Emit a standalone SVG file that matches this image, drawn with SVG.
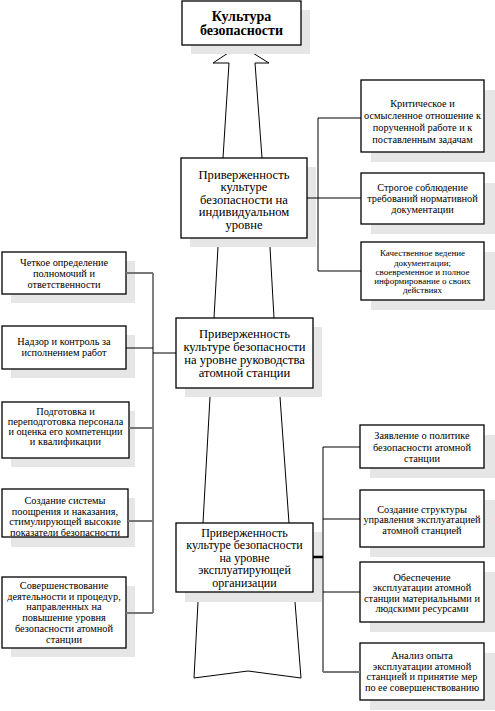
<svg xmlns="http://www.w3.org/2000/svg" width="495" height="711" viewBox="0 0 495 711">
<style>
.bg{fill:#fff}
.sh{fill:#e6e6e6}
.box{fill:#fff;stroke:#000;stroke-width:1.3}
.ln{fill:none;stroke:#000;stroke-width:1}
.gl{fill:none;stroke:#777;stroke-width:2}
.tk{fill:none;stroke:#000;stroke-width:2.5}
text{font-family:"Liberation Serif","Times New Roman",serif;text-anchor:middle;fill:#000}
.tt{font-size:14px;font-weight:bold}
.tc{font-size:12.6px}
.to{font-size:12px}
.ts{font-size:10.3px}
.tx{font-size:9px}
</style>
<rect class="bg" x="0" y="0" width="495" height="711"/>
<g id="big-arrows">
<polyline class="ln" points="223,158 229,63 213,63 240,45 269,63 255,63 262,158" style="fill:#fff"/>
<line class="ln" x1="218" y1="247" x2="214" y2="318"/>
<line class="ln" x1="270" y1="247" x2="274" y2="318"/>
<line class="ln" x1="210" y1="397" x2="203" y2="523"/>
<line class="ln" x1="280" y1="397" x2="289" y2="523"/>
<polyline class="ln" points="198,602 194,678 248,671 301,678 295,602"/>
</g>
<g id="top">
<rect class="sh" x="191" y="10" width="119" height="44"/>
<rect class="box" x="182" y="1" width="119" height="44"/>
<text class="tt" x="241.5" y="21">Культура</text>
<text class="tt" x="241.5" y="35">безопасности</text>
</g>
<g id="individual">
<rect class="sh" x="190" y="167" width="126" height="80"/>
<rect class="box" x="181" y="158" width="126" height="80"/>
<text class="tc" x="244" y="178.5">Приверженность</text>
<text class="tc" x="244" y="191">культуре</text>
<text class="tc" x="244" y="203.5">безопасности на</text>
<text class="tc" x="244" y="216">индивидуальном</text>
<text class="tc" x="244" y="228.5">уровне</text>
</g>
<g id="management">
<rect class="sh" x="185" y="327" width="137" height="70"/>
<rect class="box" x="176" y="318" width="137" height="70"/>
<text class="tc" x="244.5" y="337.5">Приверженность</text>
<text class="tc" x="244.5" y="350.5">культуре безопасности</text>
<text class="tc" x="244.5" y="363.5">на уровне руководства</text>
<text class="tc" x="244.5" y="376.5">атомной станции</text>
</g>
<g id="operating">
<rect class="sh" x="185" y="532" width="137" height="70"/>
<rect class="box" x="176" y="523" width="137" height="69"/>
<text class="to" x="244.5" y="536.5">Приверженность</text>
<text class="to" x="244.5" y="549.1">культуре безопасности</text>
<text class="to" x="244.5" y="561.7">на уровне</text>
<text class="to" x="244.5" y="574.3">эксплуатирующей</text>
<text class="to" x="244.5" y="586.9">организации</text>
</g>
<g id="l1">
<rect class="sh" x="11" y="261" width="124" height="42"/>
<rect class="box" x="2" y="252" width="124" height="42"/>
<text class="ts" x="64" y="266">Четкое определение</text>
<text class="ts" x="64" y="277">полномочий и</text>
<text class="ts" x="64" y="287.5">ответственности</text>
</g>
<g id="l2">
<rect class="sh" x="11" y="335" width="124" height="43"/>
<rect class="box" x="2" y="326" width="124" height="43"/>
<text class="ts" x="64" y="345">Надзор и контроль за</text>
<text class="ts" x="64" y="356">исполнением работ</text>
</g>
<g id="l3">
<rect class="sh" x="11" y="411" width="124" height="56"/>
<rect class="box" x="2" y="402" width="127" height="56"/>
<text class="ts" x="65.5" y="414.5">Подготовка и</text>
<text class="ts" x="65.5" y="424.8">переподготовка персонала</text>
<text class="ts" x="65.5" y="435.1">и оценка его компетенции</text>
<text class="ts" x="65.5" y="445.4">и квалификации</text>
</g>
<g id="l4">
<rect class="sh" x="11" y="498" width="124" height="49"/>
<rect class="box" x="2" y="489" width="126" height="48"/>
<text class="ts" x="65" y="504">Создание системы</text>
<text class="ts" x="65" y="514.5">поощрения и наказания,</text>
<text class="ts" x="65" y="525">стимулирующей высокие</text>
<text class="ts" x="65" y="535.5">показатели безопасности</text>
</g>
<g id="l5">
<rect class="sh" x="11" y="586" width="124" height="71"/>
<rect class="box" x="2" y="577" width="124" height="71"/>
<text class="ts" x="64" y="589">Совершенствование</text>
<text class="ts" x="64" y="599.7">деятельности и процедур,</text>
<text class="ts" x="64" y="610.4">направленных на</text>
<text class="ts" x="64" y="621.1">повышение уровня</text>
<text class="ts" x="64" y="631.8">безопасности атомной</text>
<text class="ts" x="64" y="642.5">станции</text>
</g>
<g id="r1">
<rect class="sh" x="371" y="90" width="124" height="72"/>
<rect class="box" x="361" y="80" width="123" height="72"/>
<text class="ts" x="422.5" y="107">Критическое и</text>
<text class="ts" x="422.5" y="119">осмысленное отношение к</text>
<text class="ts" x="422.5" y="131">порученной работе и к</text>
<text class="ts" x="422.5" y="143">поставленным задачам</text>
</g>
<g id="r2">
<rect class="sh" x="371" y="183" width="124" height="51"/>
<rect class="box" x="361" y="173" width="123" height="51"/>
<text class="ts" x="422.5" y="191">Строгое соблюдение</text>
<text class="ts" x="422.5" y="202">требований нормативной</text>
<text class="ts" x="422.5" y="213">документации</text>
</g>
<g id="r3">
<rect class="sh" x="371" y="252" width="124" height="58"/>
<rect class="box" x="361" y="242" width="123" height="58"/>
<text class="tx" x="422.5" y="256.3">Качественное ведение</text>
<text class="tx" x="422.5" y="265.5">документации;</text>
<text class="tx" x="422.5" y="274.7">своевременное и полное</text>
<text class="tx" x="422.5" y="283.9">информирование о своих</text>
<text class="tx" x="422.5" y="293.1">действиях</text>
</g>
<g id="r4">
<rect class="sh" x="370" y="435" width="125" height="43"/>
<rect class="box" x="360" y="425" width="124" height="43"/>
<text class="ts" x="422" y="439">Заявление о политике</text>
<text class="ts" x="422" y="450.5">безопасности атомной</text>
<text class="ts" x="422" y="462">станции</text>
</g>
<g id="r5">
<rect class="sh" x="370" y="500" width="125" height="57"/>
<rect class="box" x="360" y="490" width="124" height="57"/>
<text class="ts" x="422" y="512.5">Создание структуры</text>
<text class="ts" x="422" y="523">управления эксплуатацией</text>
<text class="ts" x="422" y="533.5">атомной станцией</text>
</g>
<g id="r6">
<rect class="sh" x="370" y="572" width="125" height="60"/>
<rect class="box" x="360" y="562" width="124" height="60"/>
<text class="ts" x="422" y="580.5">Обеспечение</text>
<text class="ts" x="422" y="591">эксплуатации атомной</text>
<text class="ts" x="422" y="601.5">станции материальными и</text>
<text class="ts" x="422" y="612">людскими ресурсами</text>
</g>
<g id="r7">
<rect class="sh" x="370" y="653" width="125" height="57"/>
<rect class="box" x="360" y="643" width="124" height="57"/>
<text class="ts" x="422" y="659">Анализ опыта</text>
<text class="ts" x="422" y="669.5">эксплуатации атомной</text>
<text class="ts" x="422" y="680">станцией и принятие мер</text>
<text class="ts" x="422" y="690.5">по ее совершенствованию</text>
</g>
<g id="connectors">
<line class="ln" x1="153" y1="273" x2="153" y2="613"/>
<line class="gl" x1="126" y1="273" x2="153" y2="273"/>
<line class="ln" x1="126" y1="348" x2="153" y2="348"/>
<line class="gl" x1="129" y1="428" x2="153" y2="428"/>
<line class="gl" x1="128" y1="521" x2="153" y2="521"/>
<line class="gl" x1="126" y1="613" x2="153" y2="613"/>
<line class="ln" x1="153" y1="353" x2="176" y2="353"/>
<line class="ln" x1="318" y1="118" x2="318" y2="271"/>
<line class="ln" x1="318" y1="118" x2="361" y2="118"/>
<line class="ln" x1="307" y1="198" x2="361" y2="198"/>
<line class="ln" x1="318" y1="271" x2="361" y2="271"/>
<line class="ln" x1="323" y1="447" x2="323" y2="672"/>
<line class="ln" x1="323" y1="447" x2="360" y2="447"/>
<line class="ln" x1="323" y1="519" x2="360" y2="519"/>
<line class="tk" x1="313" y1="557" x2="323" y2="557"/>
<line class="ln" x1="323" y1="592" x2="360" y2="592"/>
<line class="gl" x1="323" y1="672" x2="360" y2="672"/>
</g>
</svg>
